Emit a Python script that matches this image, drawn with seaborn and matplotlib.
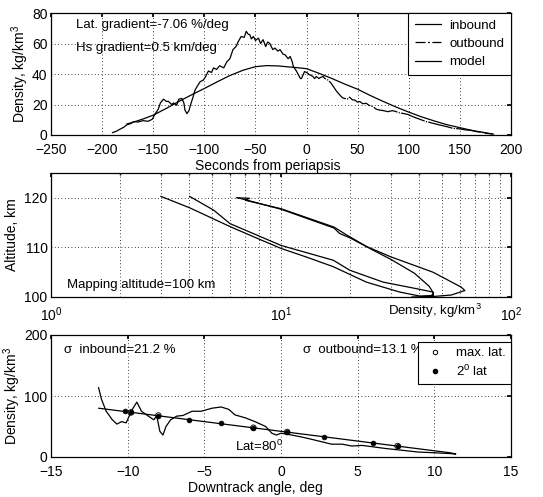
import matplotlib
matplotlib.use("Agg")
import matplotlib.pyplot as plt
from matplotlib.lines import Line2D
import seaborn as sns
import pandas as pd
import numpy as np

# ---------------- data: panel 1 (density vs time) ----------------
t_in = [-190, -186, -182, -179, -176, -172, -169, -165, -160, -155, -151, -148, -145, -143, -140,
        -137, -135, -132, -130, -127, -125, -122, -120, -119, -117, -115, -114, -111, -109, -106,
        -104, -101, -99, -96, -93, -91, -88, -85, -81, -78, -75, -72, -69, -67, -64, -61, -59,
        -57, -55.5, -54, -52, -50, -47, -45, -42.5, -40, -38, -36, -33, -31, -28, -26, -23, -21,
        -18, -16, -14, -13, -10, -8, -6, -5, -3, -2, 0]
rho_in = [1.5, 2.5, 4, 5, 6.6, 7.5, 8.8, 8.5, 9.4, 9.0, 10.3, 14, 17, 21, 23.5,
          22, 22, 20, 21, 19.5, 23.5, 24, 21, 16.4, 14, 16, 18.6, 25, 29.6, 33,
          35, 36, 38, 42, 41, 44, 43, 45.4, 44, 48, 50, 56, 58, 61, 64.6, 64, 68,
          66, 65.8, 63, 64.6, 62, 63.5, 60, 62.5, 58, 61, 60, 56, 57, 55, 56, 53, 52.6,
          50, 51.5, 48, 45, 42, 39.5, 37, 37, 40, 41.6, 41]
t_out = [0, 3, 6, 8, 9.6, 12, 13, 16, 18, 21, 24, 26, 29, 32.4, 35, 37, 40, 42, 45, 47, 50, 52,
         55, 58.4, 61, 65, 68, 71, 75, 79.5, 84, 87.7, 91, 94, 99, 104, 110, 117, 123, 130, 137,
         143, 150, 156, 161, 166, 171, 175.5, 182]
rho_out = [41, 39.5, 38.5, 37, 38.4, 37, 37.5, 38.4, 37, 36, 34, 32, 29, 26.3, 24.5, 24, 23.5,
           24.8, 23, 23, 21.5, 22, 20.5, 20.8, 19.5, 18.6, 17, 16.4, 16, 15.3, 16, 15.3, 14.5,
           14.2, 13.5, 12, 10.5, 8.8, 7.8, 6.6, 5.5, 4.4, 4.0, 3.3, 3.0, 2.2, 1.8, 1.1, 0.7]
t_model = [-176, -170, -160, -150, -137, -125, -112, -100, -87, -75, -62, -50, -39, -28, -20,
           -10, 0, 12, 25, 37, 50, 62, 75, 87, 100, 112, 125, 137, 150, 162, 175, 183]
rho_model = [7.2, 8.3, 10.5, 13, 17.5, 22, 26.5, 30.5, 35, 39, 42.5, 44.8, 45.5, 45.3, 44.8,
             44.2, 43.5, 40.5, 37, 33.5, 30, 26, 22, 18.5, 15, 12, 9.2, 6.8, 4.8, 3.0, 1.5, 0.5]

# ---------------- data: panel 2 (altitude vs density) ----------------
loopA1_rho = [3.0, 4.0, 6.0, 8.0, 10.0, 13.0, 16.9, 23.5, 32.8, 40.0, 46.0]
loopA1_alt = [120.3, 118.0, 114.2, 111.7, 109.8, 108.0, 106.1, 103.0, 101.0, 100.2, 100.3]
loopA2_rho = [46.0, 45.8, 38.6, 27.8, 19.9, 16.9, 10.0, 6.0, 5.1, 4.0]
loopA2_alt = [100.3, 101.0, 101.7, 103.0, 105.4, 107.4, 110.4, 114.8, 117.5, 120.3]
loopB1_rho = [6.4, 7.3, 7.0, 10.0, 17.0, 19.3, 23.5, 30.0, 45.8, 60.7, 63.0, 55.0, 45.8, 37.0]
loopB1_alt = [120.0, 119.9, 119.5, 117.8, 114.1, 112.5, 110.2, 108.1, 105.0, 102.0, 101.3, 100.4, 100.1, 100.0]
loopB2_rho = [6.5, 10.0, 17.0, 18.0, 20.0, 25.0, 30.0, 38.0, 44.0, 46.0, 45.0, 40.0]
loopB2_alt = [120.0, 117.7, 113.9, 112.8, 111.9, 109.5, 107.6, 104.8, 102.2, 100.8, 100.2, 100.0]

# ---------------- data: panel 3 (density vs downtrack angle) ----------------
ang = [-11.9, -11.7, -11.4, -11.0, -10.7, -10.4, -10.1, -9.7, -9.4, -9.1, -8.65, -8.3, -8.1,
       -7.9, -7.7, -7.5, -7.2, -6.8, -6.4, -5.8, -5.2, -4.5, -3.9, -3.4, -3.0, -2.3, -1.7,
       -1.0, -0.6, -0.3, 0.0, 0.7, 1.3, 2.0, 2.65, 3.3, 4.0, 4.6, 5.3, 5.9, 6.8, 7.9, 9.0,
       10.0, 11.1, 11.4, 11.0]
dens_ang = [114, 94, 75, 61, 54, 58, 56, 78, 90, 75, 67, 61, 67, 42, 36, 50, 61, 67, 68, 75,
            75, 80, 82, 78, 69, 64, 58, 50, 39, 36, 39, 36, 33, 29, 25, 21, 21, 18, 19, 17, 14,
            11, 8, 7, 5.5, 5, 7]
fit_ang = [-11.9, 11.0]
fit_dens = [80, 7]
lat2_ang = [-10.2, -9.8, -8.0, -6.0, -3.9, -1.8, 0.4, 2.8, 6.0, 7.6]
lat2_dens = [75, 73, 68, 61, 55, 48, 41, 33, 23, 18]
maxlat_ang = [-9.8, -8.0, -1.8, 0.4, 7.6]
maxlat_dens = [73, 68, 48, 41, 18]

# ---------------- style ----------------
sns.set_theme(style="white")
plt.rcParams.update({
    "font.family": ["Liberation Sans", "DejaVu Sans"],
    "font.size": 10,
    "axes.edgecolor": "black",
    "axes.linewidth": 0.9,
    "xtick.direction": "in",
    "ytick.direction": "in",
    "xtick.top": True,
    "ytick.right": True,
    "xtick.major.size": 3,
    "ytick.major.size": 3,
    "xtick.minor.size": 1.5,
    "ytick.minor.size": 1.5,
    "xtick.major.pad": 6,
    "ytick.major.pad": 2.5,
    "xtick.color": "black",
    "ytick.color": "black",
    "xtick.labelsize": 10,
    "ytick.labelsize": 10,
    "axes.labelsize": 10,
    "text.color": "black",
    "axes.labelcolor": "black",
    "mathtext.fontset": "custom",
    "mathtext.rm": "Liberation Sans",
    "mathtext.it": "Liberation Sans",
})

W, H = 543, 497
fig = plt.figure(figsize=(W / 100, H / 100), dpi=100)
fig.patch.set_facecolor("white")

def ax_rect(l, t, r, b):
    return [l / W, 1 - b / H, (r - l) / W, (b - t) / H]

ax1 = fig.add_axes(ax_rect(51, 13, 511, 135))
ax2 = fig.add_axes(ax_rect(51, 173, 511, 297))
ax3 = fig.add_axes(ax_rect(51, 335, 511, 457))

grid_kw = dict(color="black", linestyle=(0, (1, 3)), linewidth=0.6)
lw = 0.9
fs = 9.5

# ---------- panel 1 ----------
df_in = pd.DataFrame({"t": t_in, "rho": rho_in})
df_out = pd.DataFrame({"t": t_out, "rho": rho_out})
df_mod = pd.DataFrame({"t": t_model, "rho": rho_model})
sns.lineplot(data=df_in, x="t", y="rho", ax=ax1, color="black", lw=lw, sort=False, estimator=None)
sns.lineplot(data=df_out, x="t", y="rho", ax=ax1, color="black", lw=lw, sort=False, estimator=None)
ax1.lines[-1].set_dashes((20, 1.0, 1.0, 1.0))
sns.lineplot(data=df_mod, x="t", y="rho", ax=ax1, color="black", lw=lw, sort=False, estimator=None)
ax1.set_xlim(-250, 200)
ax1.set_ylim(0, 80)
ax1.set_xticks(np.arange(-250, 201, 50))
ax1.set_yticks([0, 20, 40, 60, 80])
ax1.grid(True, **grid_kw)
ax1.set_xlabel("Seconds from periapsis", labelpad=0)
ax1.xaxis.set_label_coords(0.472, -0.2)
ax1.set_ylabel("Density, kg/km$^3$", labelpad=1)
ax1.text(0.055, 0.905, "Lat. gradient=-7.06 %/deg", transform=ax1.transAxes, va="center",
         ha="left", fontsize=fs)
ax1.text(0.055, 0.71, "Hs gradient=0.5 km/deg", transform=ax1.transAxes, va="center",
         ha="left", fontsize=fs)
h1 = [Line2D([], [], color="black", lw=lw),
      Line2D([], [], color="black", lw=lw, dashes=(8, 2, 1.5, 2)),
      Line2D([], [], color="black", lw=lw)]
leg1 = ax1.legend(h1, ["inbound", "outbound", "model"], loc="upper right", borderaxespad=0,
                  frameon=True, fancybox=False, framealpha=1, edgecolor="black", fontsize=fs,
                  handlelength=2.0, handletextpad=0.6, labelspacing=0.45, borderpad=0.5)
leg1.get_frame().set_linewidth(0.8)

# ---------- panel 2 ----------
for rr, aa in [(loopA1_rho, loopA1_alt), (loopA2_rho, loopA2_alt),
               (loopB1_rho, loopB1_alt), (loopB2_rho, loopB2_alt)]:
    sns.lineplot(x=rr, y=aa, ax=ax2, color="black", lw=lw, sort=False, estimator=None)
ax2.set_xscale("log")
ax2.set_xlim(1, 100)
ax2.set_ylim(100, 125)
ax2.set_yticks([100, 110, 120])
ax2.grid(True, which="both", **grid_kw)
ax2.set_ylabel("Altitude, km", labelpad=4)
ax2.set_xlabel("")
ax2.text(0.035, 0.097, "Mapping altitude=100 km", transform=ax2.transAxes, va="center",
         ha="left", fontsize=fs)
ax2.text(0.733, -0.11, "Density, kg/km$^3$", transform=ax2.transAxes, va="center", ha="left",
         fontsize=fs)

# ---------- panel 3 ----------
sns.lineplot(x=ang, y=dens_ang, ax=ax3, color="black", lw=lw, sort=False, estimator=None)
sns.lineplot(x=fit_ang, y=fit_dens, ax=ax3, color="black", lw=lw, sort=False, estimator=None)
sns.scatterplot(x=lat2_ang, y=lat2_dens, ax=ax3, color="black", marker="o", s=12, edgecolor="black",
                linewidth=0.5, zorder=5)
sns.scatterplot(x=maxlat_ang, y=maxlat_dens, ax=ax3, facecolor="none", marker="o", s=16,
                edgecolor="black", linewidth=0.6, zorder=6)
ax3.set_xlim(-15, 15)
ax3.set_ylim(0, 200)
ax3.set_xticks(np.arange(-15, 16, 5))
ax3.set_yticks([0, 100, 200])
ax3.grid(True, **grid_kw)
ax3.set_xlabel("Downtrack angle, deg", labelpad=0)
ax3.xaxis.set_label_coords(0.445, -0.2)
ax3.set_ylabel("Density, kg/km$^3$", labelpad=1)
ax3.text(0.028, 0.88, "σ  inbound=21.2 %", transform=ax3.transAxes, va="center", ha="left",
         fontsize=fs)
ax3.text(0.548, 0.88, "σ  outbound=13.1 %", transform=ax3.transAxes, va="center", ha="left",
         fontsize=fs)
ax3.text(-3.0, 18, "Lat=80$^0$", va="center", ha="left", fontsize=fs)
h3 = [Line2D([], [], ls="none", marker="o", markersize=3.2, markerfacecolor="none",
             markeredgecolor="black", markeredgewidth=0.7),
      Line2D([], [], ls="none", marker="o", markersize=3.0, color="black")]
leg3 = ax3.legend(h3, ["max. lat.", "2$^0$ lat"], loc="upper right", bbox_to_anchor=(1.0, 0.945),
                  borderaxespad=0, frameon=True, fancybox=False, framealpha=1, edgecolor="black",
                  fontsize=fs, handlelength=1.8, handletextpad=0.7, labelspacing=0.35,
                  borderpad=0.4, numpoints=1)
leg3.get_frame().set_linewidth(0.8)

for ax in (ax1, ax2, ax3):
    for s in ax.spines.values():
        s.set_visible(True)
        s.set_color("black")

fig.savefig("out.png", dpi=100, facecolor="white")
